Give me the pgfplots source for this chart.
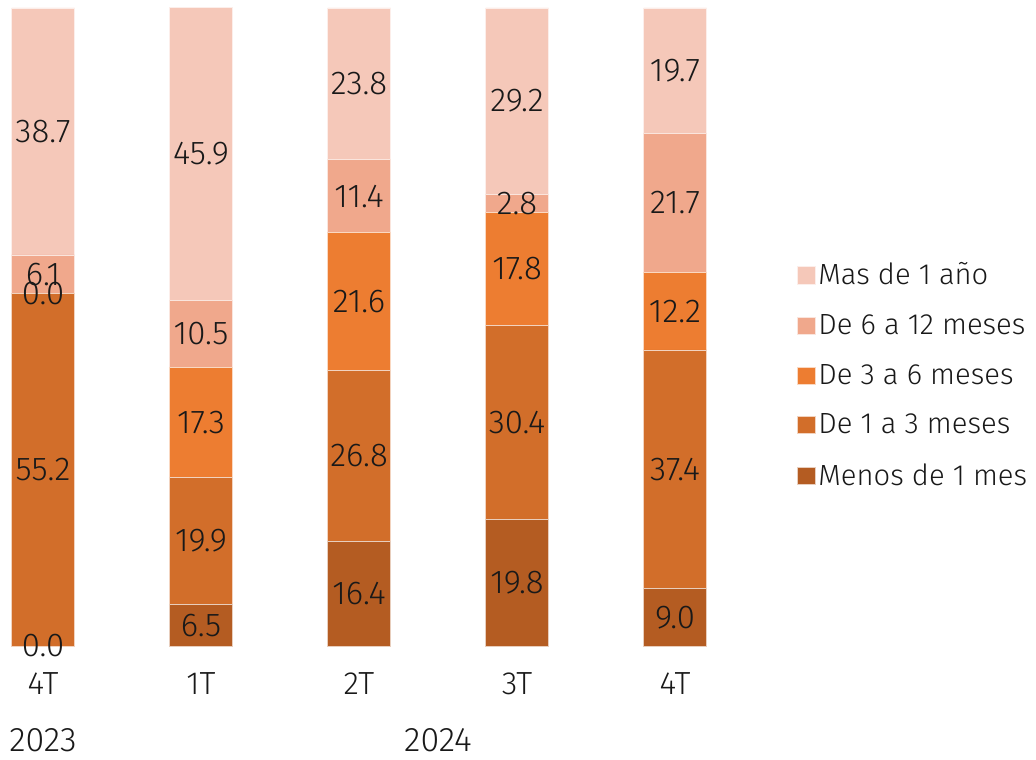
\documentclass[border=0pt]{standalone}
\usepackage{pgfplots}
\pgfplotsset{compat=1.18}
\usepackage{fontspec}
\setmainfont{Fira Sans}[UprightFont=* Light]
\definecolor{cMas}{RGB}{245,200,185}
\definecolor{cSeis}{RGB}{240,168,140}
\definecolor{cTres}{RGB}{237,125,49}
\definecolor{cUno}{RGB}{210,110,42}
\definecolor{cMenos}{RGB}{180,92,34}
\definecolor{txt}{RGB}{25,25,25}
\begin{document}
\begin{tikzpicture}[font=\fontsize{16}{18}\selectfont, text=txt]
\useasboundingbox (0,-56.5pt) rectangle (518pt,323pt);
\begin{axis}[
  at={(0,0)}, anchor=south west,
  scale only axis, width=377pt, height=319pt,
  xmin=-0.2722, xmax=4.5, ymin=0, ymax=100,
  ybar stacked, bar width=31.5pt,
  axis line style={draw=none}, major tick length=0pt,
  ytick=\empty, xtick={0,1,2,3,4}, xticklabels={4T,1T,2T,3T,4T},
  xticklabel style={yshift=-10pt, text=txt, font=\fontsize{16}{18}\selectfont},
  clip=false,
  reverse legend,
  legend cell align=left,
  legend image code/.code={\fill[#1] (0pt,-4.3pt) rectangle (8.6pt,4.3pt);},
  legend style={at={(1.057,0.606)}, anchor=north west, draw=none, fill=none,
    inner sep=0pt, row sep=10.3pt, nodes={inner sep=1.5pt, text=txt},
    font=\fontsize{14.6}{16}\selectfont},
]
\addplot[fill=cMenos, draw=white!70!cMenos, line width=0.4pt] coordinates {(0,0) (1,6.5) (2,16.4) (3,19.8) (4,9.0)};
\addplot[fill=cUno, draw=white!70!cUno, line width=0.4pt] coordinates {(0,55.2) (1,19.9) (2,26.8) (3,30.4) (4,37.4)};
\addplot[fill=cTres, draw=white!70!cTres, line width=0.4pt] coordinates {(0,0) (1,17.3) (2,21.6) (3,17.8) (4,12.2)};
\addplot[fill=cSeis, draw=white!70!cSeis, line width=0.4pt] coordinates {(0,6.1) (1,10.5) (2,11.4) (3,2.8) (4,21.7)};
\addplot[fill=cMas, draw=white!70!cMas, line width=0.4pt] coordinates {(0,38.7) (1,45.9) (2,23.8) (3,29.2) (4,19.7)};
\legend{Menos de 1 mes, De 1 a 3 meses, De 3 a 6 meses, De 6 a 12 meses, Mas de 1 año}
\node[text=txt, font=\fontsize{17}{19}\selectfont] at (axis cs:0,-14.7) {2023};
\node[text=txt, font=\fontsize{17}{19}\selectfont] at (axis cs:2.5,-14.7) {2024};
\end{axis}
\begin{axis}[
  at={(0,0)}, anchor=south west,
  scale only axis, width=377pt, height=319pt,
  xmin=-0.2722, xmax=4.5, ymin=0, ymax=100,
  hide axis, clip=false,
]
\addplot[only marks, mark=none, nodes near coords, point meta=explicit symbolic,
  nodes near coords align=center,
  every node near coord/.append style={text=txt, inner sep=0pt, font=\fontsize{16.5}{18}\selectfont}]
  coordinates {
  (0,0)[0.0] (0,27.6)[55.2] (0,55.2)[0.0] (0,58.25)[6.1] (0,80.65)[38.7]
  (1,3.25)[6.5] (1,16.45)[19.9] (1,35.05)[17.3] (1,48.95)[10.5] (1,77.15)[45.9]
  (2,8.2)[16.4] (2,29.8)[26.8] (2,54.0)[21.6] (2,70.5)[11.4] (2,88.1)[23.8]
  (3,9.9)[19.8] (3,35.0)[30.4] (3,59.1)[17.8] (3,69.4)[2.8] (3,85.4)[29.2]
  (4,4.5)[9.0] (4,27.7)[37.4] (4,52.5)[12.2] (4,69.45)[21.7] (4,90.15)[19.7]
  };
\end{axis}
\end{tikzpicture}
\end{document}
